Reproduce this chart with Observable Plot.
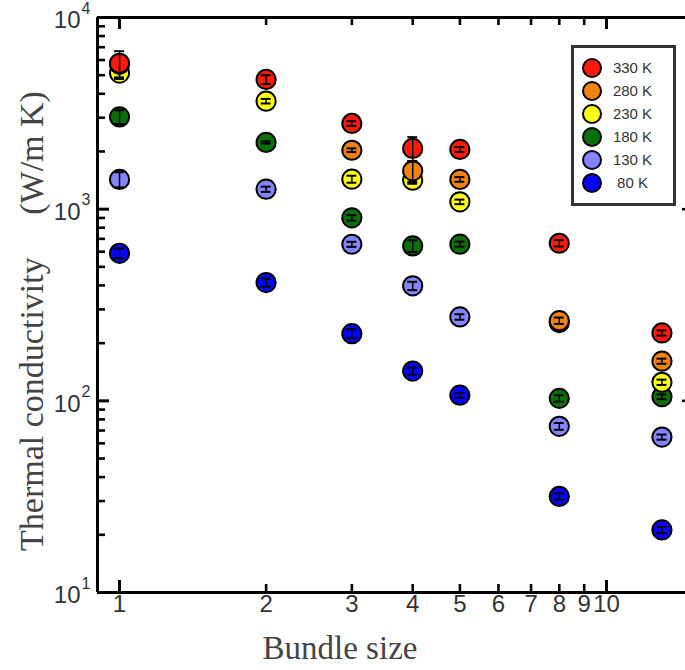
<!DOCTYPE html>
<html>
<head>
<meta charset="utf-8">
<script src="https://cdn.jsdelivr.net/npm/d3@7"></script>
<script src="https://cdn.jsdelivr.net/npm/@observablehq/plot@0.6"></script>
<style>
  html, body { margin: 0; padding: 0; background: #fff; overflow: hidden; }
  #wrap { position: relative; width: 685px; height: 670px; }
  #legend {
    position: absolute; left: 571px; top: 45px; width: 105px; height: 161px;
    box-sizing: border-box; border: 3px solid #333; background: #fff;
  }
  .item { position: absolute; left: 0; width: 100%; height: 20px; }
  .sw { position: absolute; left: 8px; top: 0; width: 16px; height: 16px; border: 2px solid #000; border-radius: 50%; }
  .lb { position: absolute; left: 36px; width: 45px; text-align: center; top: 1px;
        font: 15px "Liberation Sans", Arial, sans-serif; color: #333; line-height: 18px; }
</style>
</head>
<body>
<div id="wrap"></div>
<script>
// ---- data ----
const bundleSizes = [1, 2, 3, 4, 5, 8, 13];
const temperatures = ["330 K", "280 K", "230 K", "180 K", "130 K", "80 K"];
const colors = ["#ff1a0a", "#f0820f", "#ffff14", "#0a700a", "#8484ff", "#0505ff"];

// thermal conductivity (W/m K) per bundle size, null = no point
const k330 = [5770, 4750, 2800, 2075, 2050, 664, 226];
const k280 = [5700, null, 2030, 1585, 1430, 262, 161];
const k230 = [5130, 3660, 1434, 1417, 1092, 256, 125];
const k180 = [3030, 2230, 901, 643, 657, 103, 105];
const k130 = [1429, 1271, 656, 398, 274, 73.6, 64.7];
const k80  = [588, 414, 224, 143, 107, 31.7, 21.2];

// error bar half-widths
const e330 = [900, 250, 80, 300, 60, 25, 7];
const e280 = [300, null, 45, 200, 40, 10, 5];
const e230 = [350, 100, 60, 60, 30, 10, 4];
const e180 = [250, 30, 30, 45, 20, 4, 3];
const e130 = [130, 40, 20, 20, 9, 3, 2];
const e80  = [35, 20, 12, 6, 3, 1.2, 0.8];

// axis ticks
const yMajor = [10, 100, 1000, 10000];
const yMinor = [20,30,40,50,60,70,80,90,200,300,400,500,600,700,800,900,2000,3000,4000,5000,6000,7000,8000,9000];
const xMajor = [1, 10];
const xMinor = [2, 3, 4, 5, 6, 7, 8, 9];
const xTickLabels = ["1","2","3","4","5","6","7","8","9","10"];
const xDomain = [0.901, 14.53];
const yDomain = [10, 10000];

// ---- build ----
const seriesVals = [k330, k280, k230, k180, k130, k80];
const seriesErr = [e330, e280, e230, e180, e130, e80];

const W = 685, H = 670;
const mL = 97, mR = 0, mT = 17, mB = 78;
const pw = W - mL - mR, ph = H - mT - mB;
const cap = 1.0237;

const marks = [];
// draw coldest first so hotter series lie on top
for (let s = temperatures.length - 1; s >= 0; s--) {
  const rows = bundleSizes.map((b, i) => ({
    x: b, v: seriesVals[s][i], e: seriesErr[s][i], T: temperatures[s]
  })).filter(d => d.v != null);
  marks.push(Plot.dot(rows, {x: "x", y: "v", r: 9.6, fill: "T", stroke: "#000", strokeWidth: 2}));
  marks.push(Plot.ruleX(rows, {x: "x", y1: d => d.v - d.e, y2: d => d.v + d.e, stroke: "#000", strokeWidth: 1.5}));
  marks.push(Plot.ruleY(rows, {y: d => d.v + d.e, x1: d => d.x / cap, x2: d => d.x * cap, stroke: "#000", strokeWidth: 2}));
  marks.push(Plot.ruleY(rows, {y: d => d.v - d.e, x1: d => d.x / cap, x2: d => d.x * cap, stroke: "#000", strokeWidth: 2}));
}

const chart = Plot.plot({
  width: W, height: H,
  marginLeft: mL, marginRight: mR, marginTop: mT, marginBottom: mB,
  style: {background: "transparent", overflow: "visible"},
  x: {type: "log", domain: xDomain, axis: null},
  y: {type: "log", domain: yDomain, axis: null},
  color: {domain: temperatures, range: colors},
  marks: [
    // y ticks (left, inward)
    Plot.tickY(yMinor, {y: d => d, insetRight: pw - 8, strokeWidth: 2.6, stroke: "#000"}),
    Plot.tickY(yMajor, {y: d => d, insetRight: pw - 12, strokeWidth: 3, stroke: "#000"}),
    // right-edge stubs
    Plot.tickY(yMajor, {y: d => d, insetLeft: pw - 3, strokeWidth: 2.5, stroke: "#000"}),
    // x ticks bottom and top (inward)
    Plot.tickX(xMinor, {x: d => d, insetTop: ph - 8, strokeWidth: 2.6, stroke: "#000"}),
    Plot.tickX(xMajor, {x: d => d, insetTop: ph - 12, strokeWidth: 3, stroke: "#000"}),
    Plot.tickX(xMinor, {x: d => d, insetBottom: ph - 8, strokeWidth: 2.6, stroke: "#000"}),
    Plot.tickX(xMajor, {x: d => d, insetBottom: ph - 12, strokeWidth: 3, stroke: "#000"}),
    // axis lines
    Plot.ruleY(yDomain, {strokeWidth: 3, stroke: "#000"}),
    Plot.ruleX([xDomain[0]], {strokeWidth: 3, stroke: "#000"}),
    // y tick labels 10^n
    Plot.text(yMajor, {y: d => d, text: () => "10", frameAnchor: "left", textAnchor: "end", dx: -17, dy: 3,
      fontSize: 24, fill: "#333", fontFamily: "Liberation Sans, Arial, sans-serif"}),
    Plot.text(yMajor, {y: d => d, text: d => String(Math.round(Math.log10(d))), frameAnchor: "left", textAnchor: "start",
      dx: -16, dy: -9, fontSize: 16, fill: "#333", fontFamily: "Liberation Sans, Arial, sans-serif"}),
    // x tick labels
    Plot.text(xTickLabels, {x: d => +d, text: d => d, frameAnchor: "bottom", dy: 19,
      fontSize: 24, fill: "#333", fontFamily: "Liberation Sans, Arial, sans-serif"}),
    ...marks
  ]
});

const wrap = document.getElementById("wrap");
wrap.appendChild(chart);

// axis titles
const svg = d3.select(chart);
svg.append("text")
  .attr("x", 340).attr("y", 659)
  .attr("text-anchor", "middle")
  .attr("font-family", "Liberation Serif, Times New Roman, serif")
  .attr("font-size", 33).attr("fill", "#444")
  .text("Bundle size");
svg.append("text")
  .attr("transform", "translate(43,321) rotate(-90)")
  .attr("text-anchor", "middle")
  .attr("font-family", "Liberation Serif, Times New Roman, serif")
  .attr("font-size", 34).attr("fill", "#444")
  .attr("xml:space", "preserve")
  .style("white-space", "pre")
  .text("Thermal conductivity\u2003 (W/m K)");

// legend
const legend = document.createElement("div");
legend.id = "legend";
temperatures.forEach((t, i) => {
  const item = document.createElement("div");
  item.className = "item";
  item.style.top = (10 + i * 23) + "px";
  const sw = document.createElement("div");
  sw.className = "sw";
  sw.style.background = colors[i];
  const lb = document.createElement("div");
  lb.className = "lb";
  lb.textContent = t;
  item.appendChild(sw); item.appendChild(lb);
  legend.appendChild(item);
});
wrap.appendChild(legend);
</script>
</body>
</html>
